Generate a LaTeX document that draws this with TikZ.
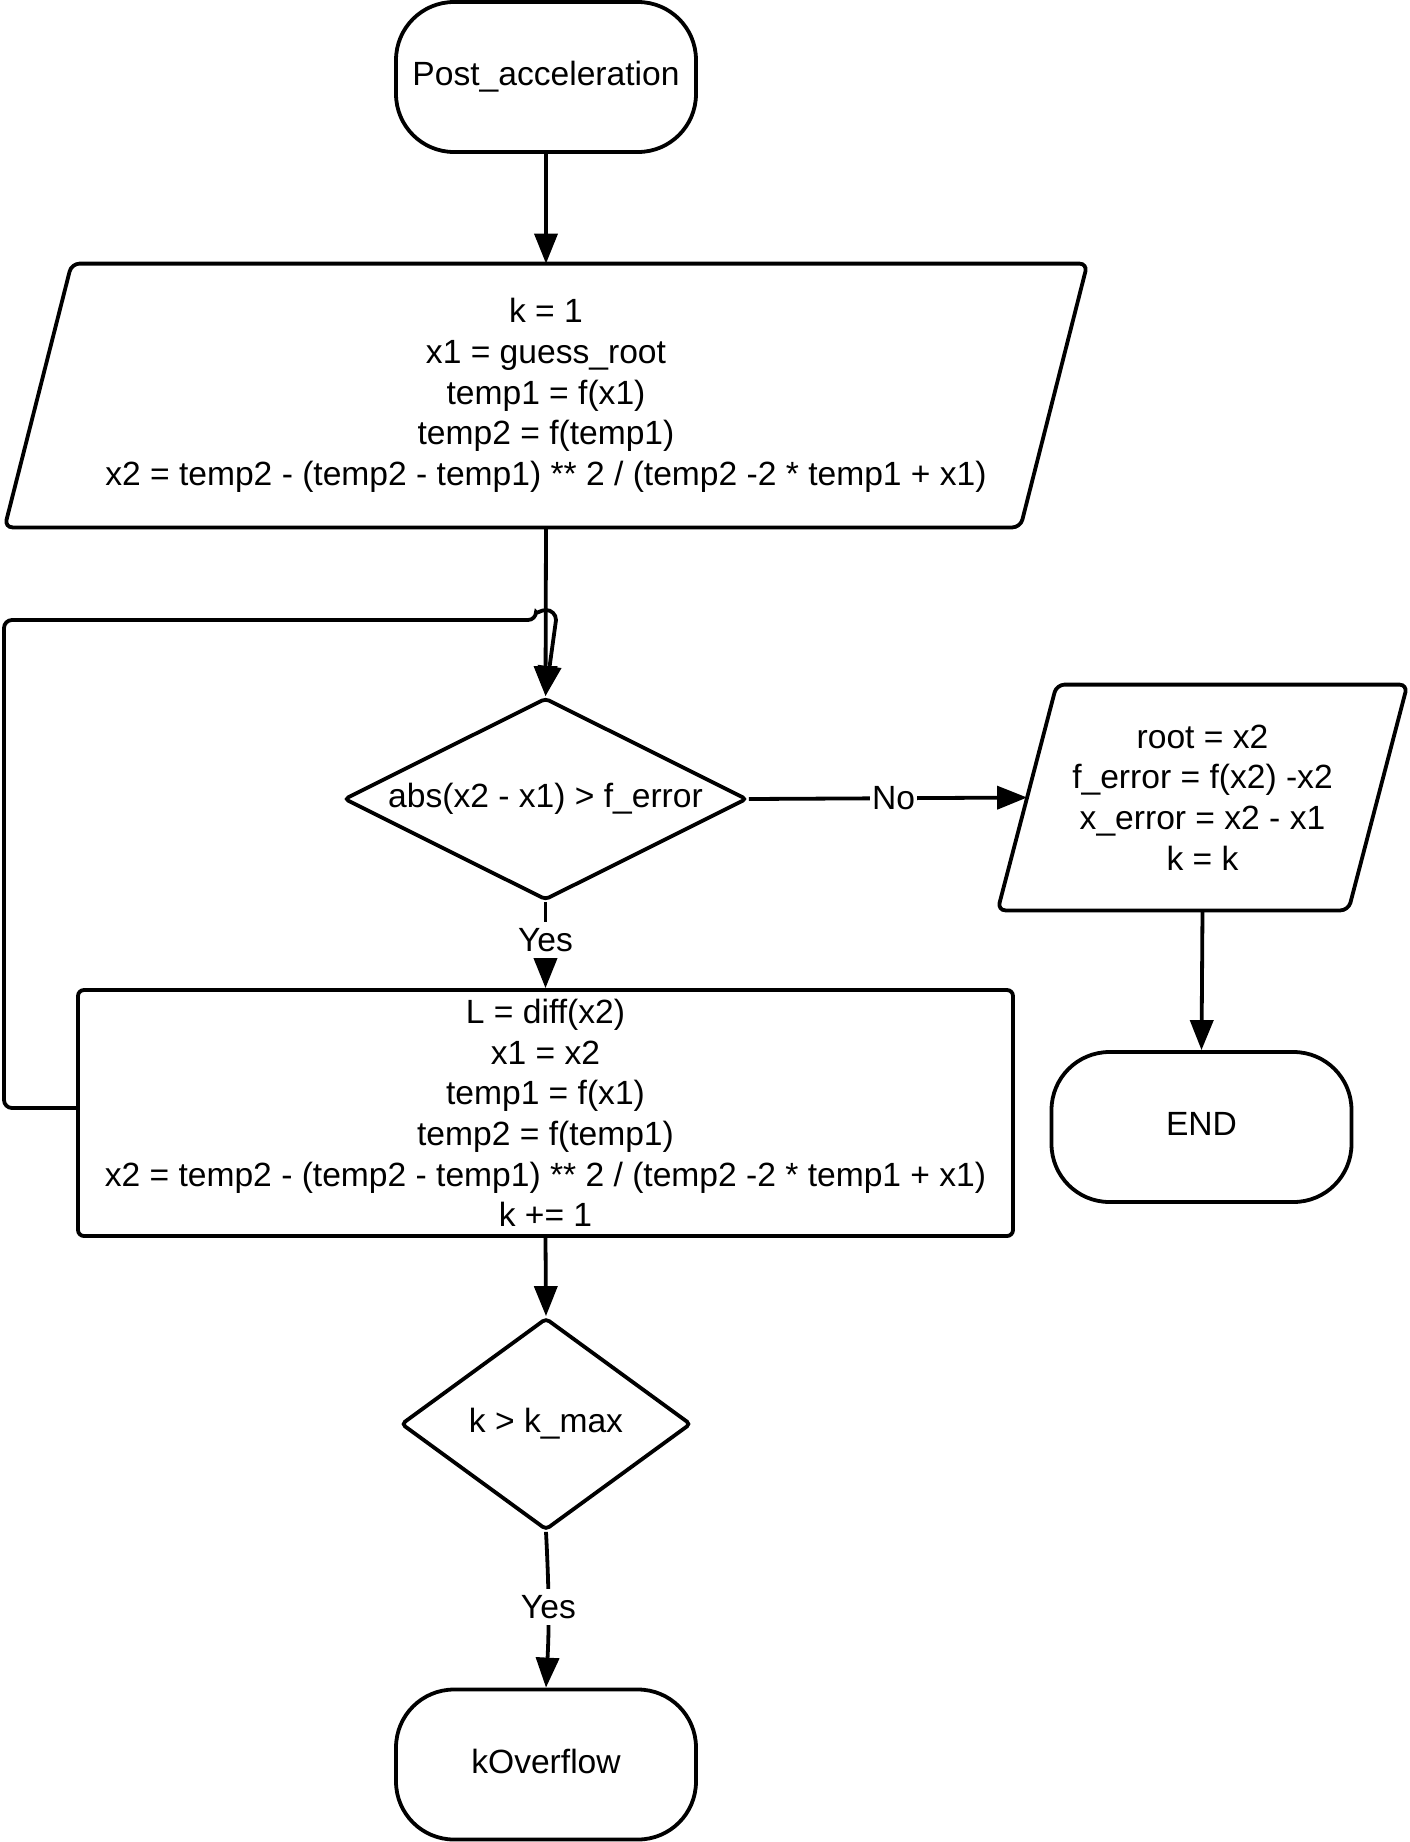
\documentclass[tikz,border=0pt]{standalone}
\usepackage{fontspec}
\setmainfont{Liberation Sans}
\usetikzlibrary{arrows.meta,shapes.geometric}
\begin{document}
\begin{tikzpicture}[x=0.5pt,y=-0.5pt,
  every node/.style={font=\fontsize{16.8pt}{20.3pt}\selectfont, inner sep=0pt, align=center},
  shp/.style={draw, line width=1.9pt},
  term/.style={shp, rectangle, rounded corners=29pt, minimum width=150pt, minimum height=75pt, text height=12pt, text depth=3.5pt},
  iobox/.style={rectangle},
  iopath/.style={shp, rounded corners=4pt},
  dec/.style={shp, diamond, aspect=2, rounded corners=2pt},
  proc/.style={shp, rectangle, rounded corners=3pt},
  arr/.style={draw, line width=1.9pt, -{Triangle[length=15pt,width=11.5pt]}},
  lbl/.style={fill=white, inner xsep=1pt, inner ysep=3pt}
]
\fill[white] (0,0) rectangle (1409,1842);
\useasboundingbox (0,0) rectangle (1409,1842);

\node[term] (s) at (546,77) {Post\_acceleration};
\node[iobox, minimum width=541pt, minimum height=131.5pt] (p1) at (546,395.5)
  {k = 1\\x1 = guess\_root\\temp1 = f(x1)\\temp2 = f(temp1)\\x2 = temp2 - (temp2 - temp1) ** 2 / (temp2 -2 * temp1 + x1)};
\draw[iopath] (p1.south west) -- ([xshift=33.5pt]p1.north west) -- (p1.north east)
  -- ([xshift=-33.5pt]p1.south east) -- cycle;
\node[dec, minimum width=201.5pt, minimum height=101pt] (d1) at (545.5,799) {abs(x2 - x1) > f\_error};
\node[iobox, minimum width=204.5pt, minimum height=112.5pt] (p2) at (1202.5,797.5)
  {root = x2\\f\_error = f(x2) -x2\\x\_error = x2 - x1\\k = k};
\draw[iopath] (p2.south west) -- ([xshift=29.5pt]p2.north west) -- (p2.north east)
  -- ([xshift=-29.5pt]p2.south east) -- cycle;
\coordinate (p2L) at ([xshift=14.75pt]p2.west);
\node[proc, minimum width=467.5pt, minimum height=123pt] (r) at (545.5,1113)
  {L = diff(x2)\\x1 = x2\\temp1 = f(x1)\\temp2 = f(temp1)\\x2 = temp2 - (temp2 - temp1) ** 2 / (temp2 -2 * temp1 + x1)\\k += 1};
\node[dec, minimum width=145pt, minimum height=106pt] (d2) at (546,1424) {k > k\_max};
\node[term] (e) at (1201.5,1127) {END};
\node[term] (ko) at (546,1764.5) {kOverflow};

\draw[arr] (s.south) -- (p1.north);
\draw[arr] (p1.south) -- (d1.north);
\draw[arr] (d1.east) -- node[lbl, pos=0.52]{No} (p2L);
\draw[arr] (d1.south) -- node[lbl, pos=0.44]{Yes} (r.north);
\draw[arr] (p2.south) -- (e.north);
\draw[arr] (r.south) -- (d2.north);
\draw[arr] (d2.south) to[bend left=3] node[lbl, pos=0.48]{Yes} (ko.north);
\draw[arr, rounded corners=4pt] ([yshift=2.5pt]r.west) -| (4,620) -- (536,620)
  [sharp corners] arc[start angle=180, end angle=0, radius=5pt] -- (d1.north);
\end{tikzpicture}
\end{document}
